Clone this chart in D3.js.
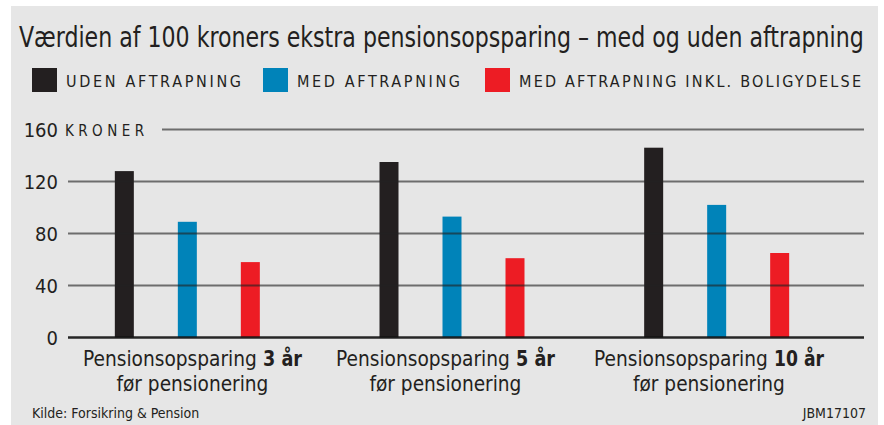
<!DOCTYPE html>
<html>
<head>
<meta charset="utf-8">
<script src="https://cdn.jsdelivr.net/npm/d3@7"></script>
<style>
  body { margin: 0; background: #ffffff; }
  svg { display: block; }
  text { font-family: "Liberation Sans Narrow", "DejaVu Sans Condensed", "Roboto", sans-serif; fill: #231f20; }
</style>
</head>
<body>
<script>
// chart data
const groups = ["3", "5", "10"];
const series = ["UDEN AFTRAPNING", "MED AFTRAPNING", "MED AFTRAPNING INKL. BOLIGYDELSE"];
const colors = ["#231f20", "#0083b9", "#ed1c24"];
const udenAftrapning = [128, 135, 146];
const medAftrapning = [89, 93, 102];
const medBolig = [58, 61, 65];
const yTicks = [0, 40, 80, 120, 160];

const values = [udenAftrapning, medAftrapning, medBolig];

const W = 884, H = 425;
const svg = d3.select("body").append("svg").attr("width", W).attr("height", H);

// squeeze a text horizontally so it spans exactly w pixels starting at x
function fitText(sel, x, y, w) {
  const len = sel.node().getComputedTextLength();
  sel.attr("x", 0).attr("y", 0)
    .attr("transform", "translate(" + x + "," + y + ") scale(" + (w / len) + ",1)");
  return sel;
}

// gray panel
svg.append("rect").attr("x", 11).attr("y", 6).attr("width", 867).attr("height", 419).attr("fill", "#e6e6e6");

// title
const title = svg.append("text")
  .style("font-size", "28px")
  .text("Værdien af 100 kroners ekstra pensionsopsparing – med og uden aftrapning");
fitText(title, 19, 47, 845);

// legend
const legendX = [32, 263, 485];
const legendW = [177, 165, 344];
const legend = svg.append("g");
series.forEach((s, i) => {
  legend.append("rect")
    .attr("x", legendX[i]).attr("y", 68).attr("width", 25).attr("height", 24)
    .attr("fill", colors[i]);
  legend.append("text")
    .attr("x", legendX[i] + 34).attr("y", 87)
    .attr("textLength", legendW[i]).attr("lengthAdjust", "spacing")
    .style("font-size", "16px")
    .style("letter-spacing", "2px")
    .text(s);
});

// scales
const y = d3.scaleLinear().domain([0, 160]).range([337.5, 129.5]);
const x0 = d3.scaleBand().domain(groups).range([55, 849]);
const x1 = d3.scalePoint().domain(series).range([-63, 63]);
const barW = 19;

// bars
const g = svg.append("g");
groups.forEach((grp, gi) => {
  series.forEach((s, si) => {
    const v = values[si][gi];
    g.append("rect")
      .attr("x", x0(grp) + x0.bandwidth() / 2 + x1(s) - barW / 2)
      .attr("y", y(v))
      .attr("width", barW)
      .attr("height", y(0) - y(v))
      .attr("fill", colors[si]);
  });
});

// gridlines over the bars
const grid = svg.append("g");
yTicks.forEach(t => {
  grid.append("line")
    .attr("x1", t === 160 ? 162 : 68).attr("x2", 864)
    .attr("y1", y(t)).attr("y2", y(t))
    .attr("stroke", t === 0 ? "#111" : "#222")
    .attr("stroke-opacity", t === 0 ? 0.9 : 0.62)
    .attr("stroke-width", t === 0 ? 2.5 : 2);
  grid.append("text")
    .attr("x", 58).attr("y", y(t) + 7)
    .attr("text-anchor", "end")
    .style("font-size", "20px")
    .text(t);
});
svg.append("text")
  .attr("x", 65).attr("y", y(160) + 6)
  .attr("textLength", 83).attr("lengthAdjust", "spacing")
  .style("font-size", "15px")
  .style("letter-spacing", "4px")
  .text("KRONER");

// category labels: plain part + bold years, then second line
const labelStart = [83, 336, 594];
const boldW = [39, 39, 50];
groups.forEach((grp, i) => {
  const x = labelStart[i];
  const plain = svg.append("text").style("font-size", "21px").text("Pensionsopsparing");
  fitText(plain, x, 366, 174);
  const bold = svg.append("text").style("font-size", "21px").style("font-weight", "bold").text(grp + " år");
  fitText(bold, x + 180, 366, boldW[i]);
  const cx = x + (180 + boldW[i]) / 2;
  const line2 = svg.append("text").style("font-size", "21px").text("før pensionering");
  fitText(line2, cx - 76, 391, 152);
});

// footer
svg.append("text")
  .attr("x", 32).attr("y", 418)
  .style("font-size", "14px")
  .text("Kilde: Forsikring & Pension");
svg.append("text")
  .attr("x", 866).attr("y", 418)
  .attr("text-anchor", "end")
  .style("font-size", "14px")
  .text("JBM17107");
</script>
</body>
</html>
